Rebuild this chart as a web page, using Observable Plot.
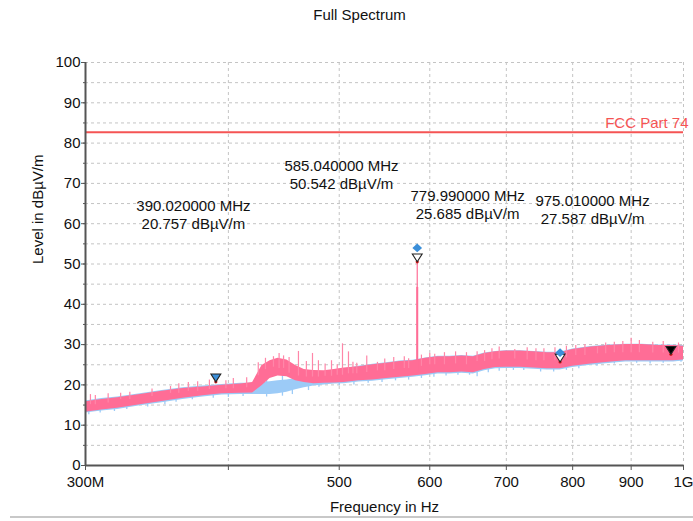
<!DOCTYPE html>
<html><head><meta charset="utf-8">
<script src="https://cdn.jsdelivr.net/npm/d3@7"></script>
<script src="https://cdn.jsdelivr.net/npm/@observablehq/plot@0.6"></script>
<style>
body{margin:0;background:#fff;font-family:"Liberation Sans",Arial,sans-serif;}
#title{height:30px;line-height:30px;text-align:center;padding-left:26px;font-size:15px;color:#111;}
#foot{height:2px;background:#c8c8c8;margin-left:10px;}
</style></head><body>
<div id="title">Full Spectrum</div>
<div id="chart"></div>
<div id="foot"></div>
<script>
// ---- data (MHz, dBµV/m) ----
const freqs = [300,310,320,335,350,365,380,395,410,420,428,435,442,450,458,466,475,485,495,505,520,535,550,565,580,595,610,625,640,655,670,685,700,720,740,760,780,800,830,860,890,920,950,980,1000];
const pinkLow  = [13.2,13.8,14.2,15.1,15.9,16.7,17.3,17.8,17.9,18.0,19.8,21.6,22.2,22.0,21.0,20.6,20.3,20.4,20.5,20.6,21.0,21.2,21.6,21.9,22.2,22.6,23.0,23.0,23.2,23.0,23.8,24.3,24.4,24.4,24.2,24.0,24.0,24.6,25.2,25.6,26.0,26.0,26.0,26.0,26.2];
const pinkHigh = [15.8,16.4,16.8,17.6,18.4,19.1,19.5,19.9,20.2,20.6,24.8,26.0,26.6,26.2,24.8,23.8,23.6,23.5,23.8,24.2,24.5,25.0,25.4,25.8,26.0,26.6,27.0,27.0,27.2,27.0,27.8,28.2,28.4,28.4,28.2,28.0,28.0,28.8,29.4,29.8,30.0,30.0,29.8,29.8,29.6];
const blueLow  = [13.0,13.5,13.9,14.8,15.6,16.4,17.0,17.5,17.6,17.6,17.6,17.6,17.8,18.2,18.8,19.3,19.7,20.0,20.2,20.3,20.7,20.9,21.3,21.6,21.9,22.3,22.7,22.7,22.9,22.7,23.5,24.0,24.1,24.1,23.9,23.7,23.7,24.3,24.9,25.3,25.7,25.7,25.7,25.7,25.9];
const blueHigh = [16.0,16.6,17.0,17.8,18.6,19.3,19.7,20.1,20.4,20.4,20.6,20.8,21.0,21.2,21.6,22.0,22.4,23.0,23.4,24.0,24.6,25.1,25.5,25.9,26.1,26.7,27.1,27.1,27.3,27.1,27.9,28.3,28.5,28.5,28.3,28.1,28.1,28.9,29.5,29.9,30.1,30.1,29.9,29.9,29.7];

// upward excursions of the pink trace
const spikeFreq = [303,306,314,322,328,343,356,362,369,376,385,398,404,415,424.8,431,438,443,447,452,460.6,468,473.8,479.5,486,492.3,498,503.3,509.4,514,518,528.5,540,548,558,570,575,590,600,606,618,632,646,660,670,680,690,712,730,743,755,772,790,805,820,841,855,870,885,900,915,940,960,990];
const spikeTop  = [17.6,17.4,17.8,17.9,18.2,19.0,19.6,20.3,20.6,20.8,21.2,21.0,21.6,21.8,25.5,26.6,27.0,27.8,27.2,26.8,28.3,25.8,27.8,26.0,25.2,26.0,25.0,30.2,28.2,25.6,25.4,27.2,25.6,26.4,26.8,27.0,26.5,27.4,27.8,27.6,28.0,28.2,28.0,28.2,28.5,29.0,29.4,28.8,29.2,29.0,29.0,29.2,29.6,29.8,30.0,29.4,30.4,30.6,30.8,31.6,31.0,30.6,30.8,30.4];
// downward excursions (light blue below the pink band)
const dipFreq   = [302,309,318,326,340,352,360,372,388,400,412,432,446,455,470,480,500,515,530,545,560,575,590,605,620,635,650,660,675,690,710,725,750,770,790,810,840,870,910,935,960,995];
const dipBottom = [12.6,13.0,13.4,13.9,14.5,15.1,15.7,16.3,16.7,16.9,17.1,17.0,17.2,17.6,18.6,19.4,19.8,20.0,20.4,20.6,21.0,21.2,21.6,21.9,22.2,22.4,22.4,22.0,23.0,23.4,23.6,23.6,23.2,23.2,23.6,24.0,24.6,25.2,25.4,25.2,25.4,25.6];

const mainSpikeFreq = 585.04;
const mainSpikeBase = 23.0;
const mainSpikeInner = 44.2;

const markerFreq  = [390.02, 585.04, 779.99, 975.01];
const markerLevel = [20.757, 50.542, 25.685, 27.587];
const markerFill  = ["#3b8fd9", "white", "white", "black"];
const diamondFreq  = [585.04, 779.99];
const diamondLevel = [54.0, 28.0];
const annotFreq  = [372.8, 502.3, 647.5, 832.7];
const annotLevel = [62.4, 72.2, 64.8, 63.6];

const fccLimit = 82.7;
const fccLabel = "FCC Part 74";

const yTicks = [0,10,20,30,40,50,60,70,80,90,100];
const yGrid = [5,10,15,20,25,30,35,40,45,50,55,60,65,70,75,80,85,90,95,100];
const xTicks = [300,400,500,600,700,800,900,1000];
const xTickLabels = ["300M","","500","600","700","800","900","1G"];
const xGrid = [400,500,600,700,800,900,1000];

// ---- tables ----
const spectrum = freqs.map((f,i)=>({f, pLo:pinkLow[i], pHi:pinkHigh[i], bLo:blueLow[i], bHi:blueHigh[i]}));
const midAt = f => { const i = d3.bisectLeft(freqs, f); const j = Math.min(i, freqs.length-1); return (pinkLow[j]+pinkHigh[j])/2; };
const spikes = spikeFreq.map((f,i)=>({f, base:midAt(f), top:spikeTop[i]}));
const dips = dipFreq.map((f,i)=>({f, base:midAt(f), bottom:dipBottom[i]}));
const markers = markerFreq.map((f,i)=>({f, v:markerLevel[i], fill:markerFill[i]}));
const diamonds = diamondFreq.map((f,i)=>({f, v:diamondLevel[i]}));
const annots = annotFreq.map((f,i)=>({f, v:annotLevel[i],
  t:`${markerFreq[i].toFixed(6)} MHz\n${markerLevel[i].toFixed(3)} dBµV/m`}));

const triDown = {draw(ctx, size){ const r = Math.sqrt(size/Math.PI); const w = 1.45*r, h = 2.3*r;
  ctx.moveTo(-w,-h); ctx.lineTo(w,-h); ctx.lineTo(0,0); ctx.closePath(); }};
const rhombus = {draw(ctx, size){ const r = Math.sqrt(size/Math.PI);
  ctx.moveTo(0,-r); ctx.lineTo(r*1.1,0); ctx.lineTo(0,r); ctx.lineTo(-r*1.1,0); ctx.closePath(); }};

const chart = Plot.plot({
  width: 693, height: 486,
  marginTop: 32, marginBottom: 51, marginLeft: 85, marginRight: 10,
  style: {fontFamily: "Liberation Sans, Arial, sans-serif", fontSize: "15px", color: "#111", background: "white"},
  x: {type: "log", domain: [300, 1000]},
  y: {domain: [0, 100]},
  color: {type: "identity"},
  marks: [
    Plot.ruleY(yGrid, {stroke: "#c4c4c4", strokeDasharray: "3,3"}),
    Plot.ruleX(xGrid, {stroke: "#c4c4c4", strokeDasharray: "3,3"}),
    Plot.ruleY([fccLimit], {stroke: "#f55454", strokeWidth: 2}),
    Plot.text([fccLabel], {x: 1000, y: fccLimit, text: d => d, textAnchor: "end", dx: 5, dy: -9, fill: "#f55454", fontSize: 15}),
    Plot.ruleX(dips, {x: "f", y1: "bottom", y2: "base", stroke: "#9ccbf7", strokeWidth: 1.3}),
    Plot.areaY(spectrum, {x: "f", y1: "bLo", y2: "bHi", fill: "#9ccbf7"}),
    Plot.areaY(spectrum, {x: "f", y1: "pLo", y2: "pHi", fill: "#ff6d96"}),
    Plot.ruleX(spikes, {x: "f", y1: "base", y2: "top", stroke: "#ff86a8", strokeWidth: 1.2}),
    Plot.ruleX([mainSpikeFreq], {y1: mainSpikeBase, y2: markerLevel[1], stroke: "#ff6d96", strokeWidth: 1.2}),
    Plot.ruleX([mainSpikeFreq], {y1: mainSpikeBase, y2: mainSpikeInner, stroke: "#ff6d96", strokeWidth: 2}),
    Plot.dot(markers, {x: "f", y: "v", r: 1.6, fill: "#d41818"}),
    Plot.dot(markers, {x: "f", y: "v", symbol: triDown, r: 3.4, fill: "fill", stroke: "#222", strokeWidth: 1.1}),
    Plot.dot(diamonds, {x: "f", y: "v", symbol: rhombus, r: 4.4, fill: "#3b8fd9"}),
    Plot.text(annots, {x: "f", y: "v", text: "t", fontSize: 15, lineHeight: 1.2, fill: "#111"}),
    Plot.ruleX([300], {stroke: "#555", strokeWidth: 2}),
    Plot.ruleY([0], {stroke: "#555", strokeWidth: 2}),
    Plot.axisY(yTicks, {tickSize: 4, tickPadding: 1, label: null, stroke: "#555", fill: "#111", fontSize: 15}),
    Plot.axisY(yGrid, {tickSize: 2, tickFormat: () => "", label: null, stroke: "#555"}),
    Plot.axisX(xTicks, {tickSize: 5, tickPadding: 6, label: null, stroke: "#555", fill: "#111", fontSize: 15,
      tickFormat: d => xTickLabels[xTicks.indexOf(d)]}),
    Plot.text(["Level in dBµV/m"], {frameAnchor: "left", dx: -47, rotate: -90, text: d => d, fontSize: 15, fill: "#111"}),
    Plot.text(["Frequency in Hz"], {frameAnchor: "bottom", dy: 46, text: d => d, fontSize: 15, fill: "#111"})
  ]
});
document.getElementById("chart").appendChild(chart);
</script>
</body></html>
